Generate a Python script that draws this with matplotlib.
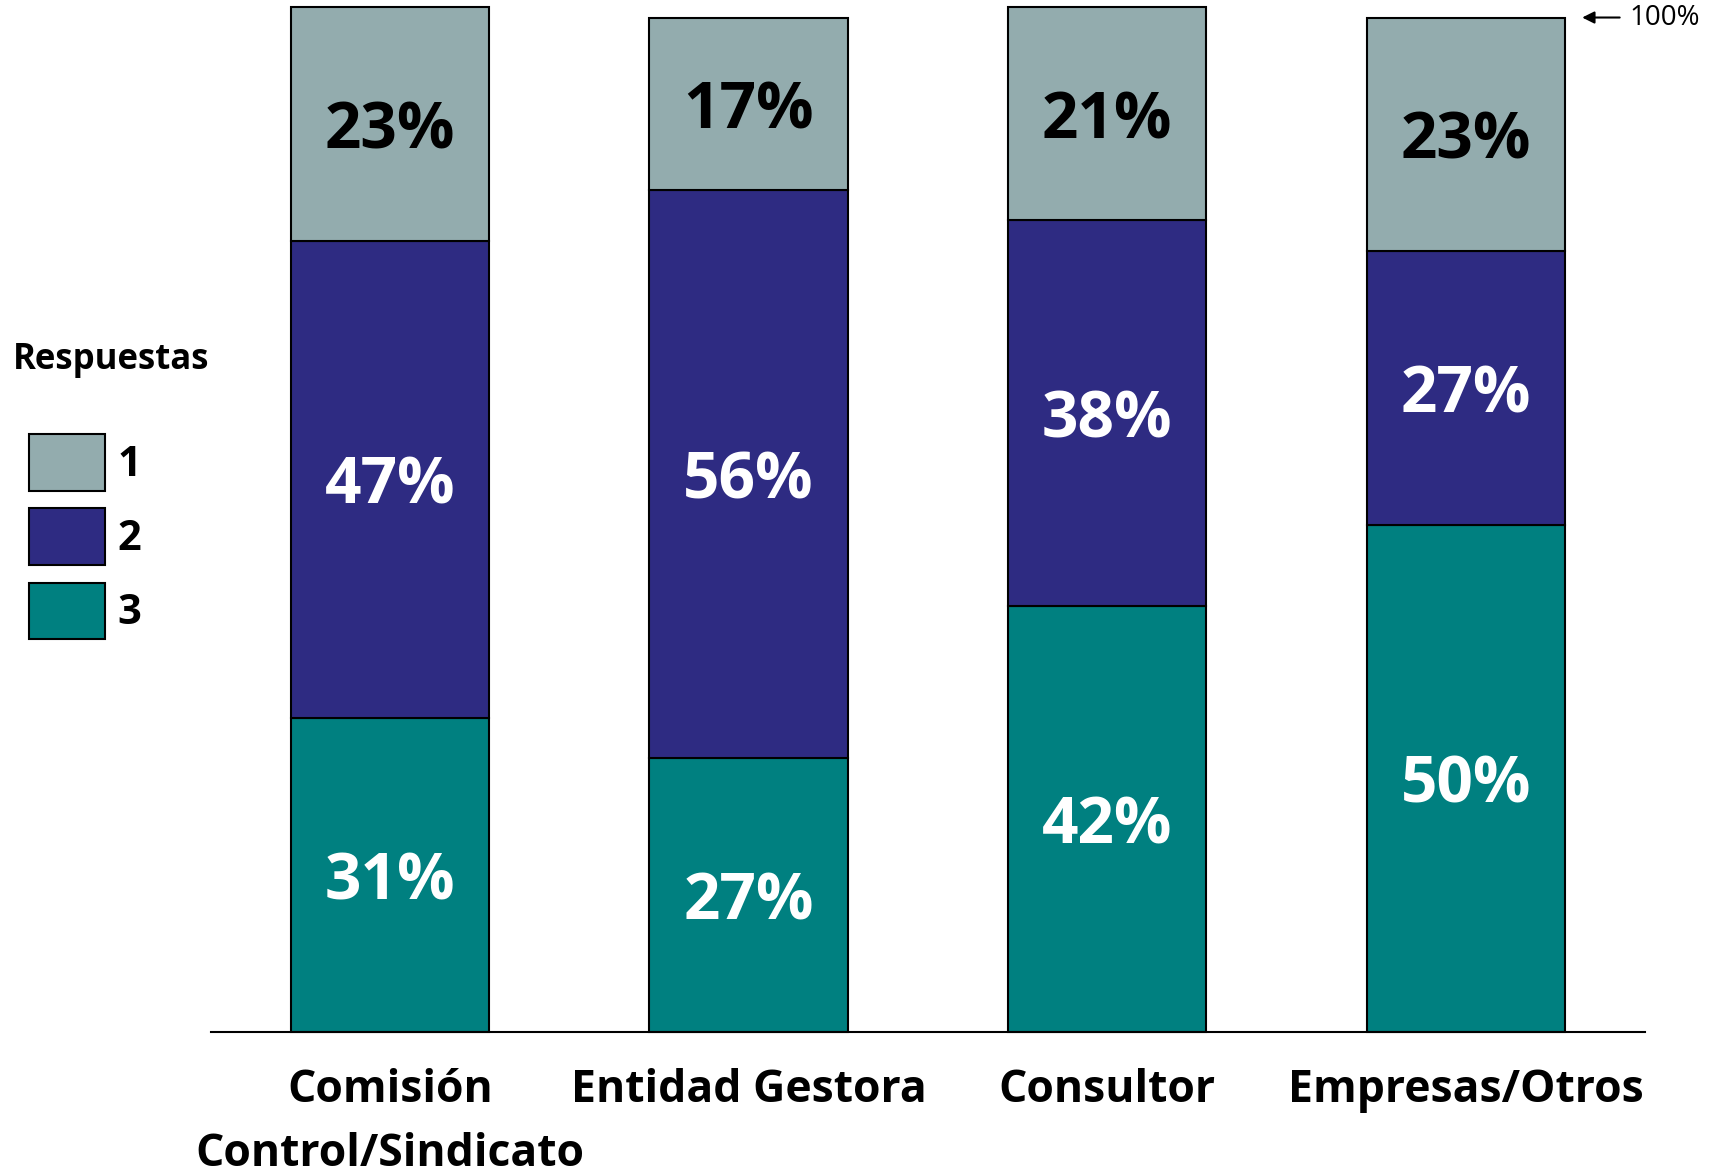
import numpy as np
import matplotlib
matplotlib.use("Agg")
import matplotlib.pyplot as plt

# datos
categorias = ["Comisión\nControl/Sindicato", "Entidad Gestora", "Consultor", "Empresas/Otros"]
resp3 = [31, 27, 42, 50]
resp2 = [47, 56, 38, 27]
resp1 = [23, 17, 21, 23]
etiquetas = ["1", "2", "3"]

colores = {"1": "#93ACAE", "2": "#2E2B82", "3": "#008080"}

plt.rcParams['font.family'] = ['Open Sans', 'DejaVu Sans']

fig = plt.figure(figsize=(17.12, 11.76), dpi=100)
ax = fig.add_axes([0.123, 0.1224, 0.838, 0.8627])

x = np.arange(len(categorias))
ancho = 0.553

b3 = ax.bar(x, resp3, ancho, color=colores["3"], edgecolor="black", linewidth=1.5, clip_on=False)
b2 = ax.bar(x, resp2, ancho, bottom=resp3, color=colores["2"], edgecolor="black", linewidth=1.5, clip_on=False)
base1 = np.array(resp3) + np.array(resp2)
b1 = ax.bar(x, resp1, ancho, bottom=base1, color=colores["1"], edgecolor="black", linewidth=1.5, clip_on=False)

# textos dentro de las barras
for i in range(len(categorias)):
    ax.text(x[i], resp3[i] / 2, f"{resp3[i]}%", ha="center", va="center_baseline",
            color="white", fontsize=46, fontweight="bold")
    ax.text(x[i], resp3[i] + resp2[i] / 2, f"{resp2[i]}%", ha="center", va="center_baseline",
            color="white", fontsize=46, fontweight="bold")
    ax.text(x[i], base1[i] + resp1[i] / 2, f"{resp1[i]}%", ha="center", va="center_baseline",
            color="black", fontsize=46, fontweight="bold")

ax.set_xlim(-0.5, 3.5)
ax.set_ylim(0, 100)
ax.set_xticks(x)
ax.set_xticklabels(categorias, fontsize=32, fontweight="bold", linespacing=1.55)
ax.tick_params(axis="x", length=0, pad=26)
ax.set_yticks([])
for lado in ["top", "left", "right"]:
    ax.spines[lado].set_visible(False)
ax.spines["bottom"].set_linewidth(1.5)

# flecha 100%
ax.annotate("", xy=(3 + ancho / 2 + 0.04, 100), xytext=(3 + ancho / 2 + 0.16, 100),
            arrowprops=dict(arrowstyle="-|>", color="black", lw=1.5, mutation_scale=18),
            annotation_clip=False)
ax.text(3 + ancho / 2 + 0.18, 100, "100%", ha="left", va="center", fontsize=20,
        clip_on=False)

# leyenda
fig.text(0.0076, 0.6935, "Respuestas", ha="left", va="center", fontsize=25, fontweight="bold")
leg = fig.legend([b1[0], b2[0], b3[0]], etiquetas,
                 loc="upper left", bbox_to_anchor=(0.0172, 0.631), frameon=False,
                 prop={"size": 30, "weight": "bold"},
                 borderpad=0, borderaxespad=0,
                 handlelength=1.82, handleheight=1.72, labelspacing=0.42,
                 handletextpad=0.3)

fig.savefig("out.png", dpi=100)
